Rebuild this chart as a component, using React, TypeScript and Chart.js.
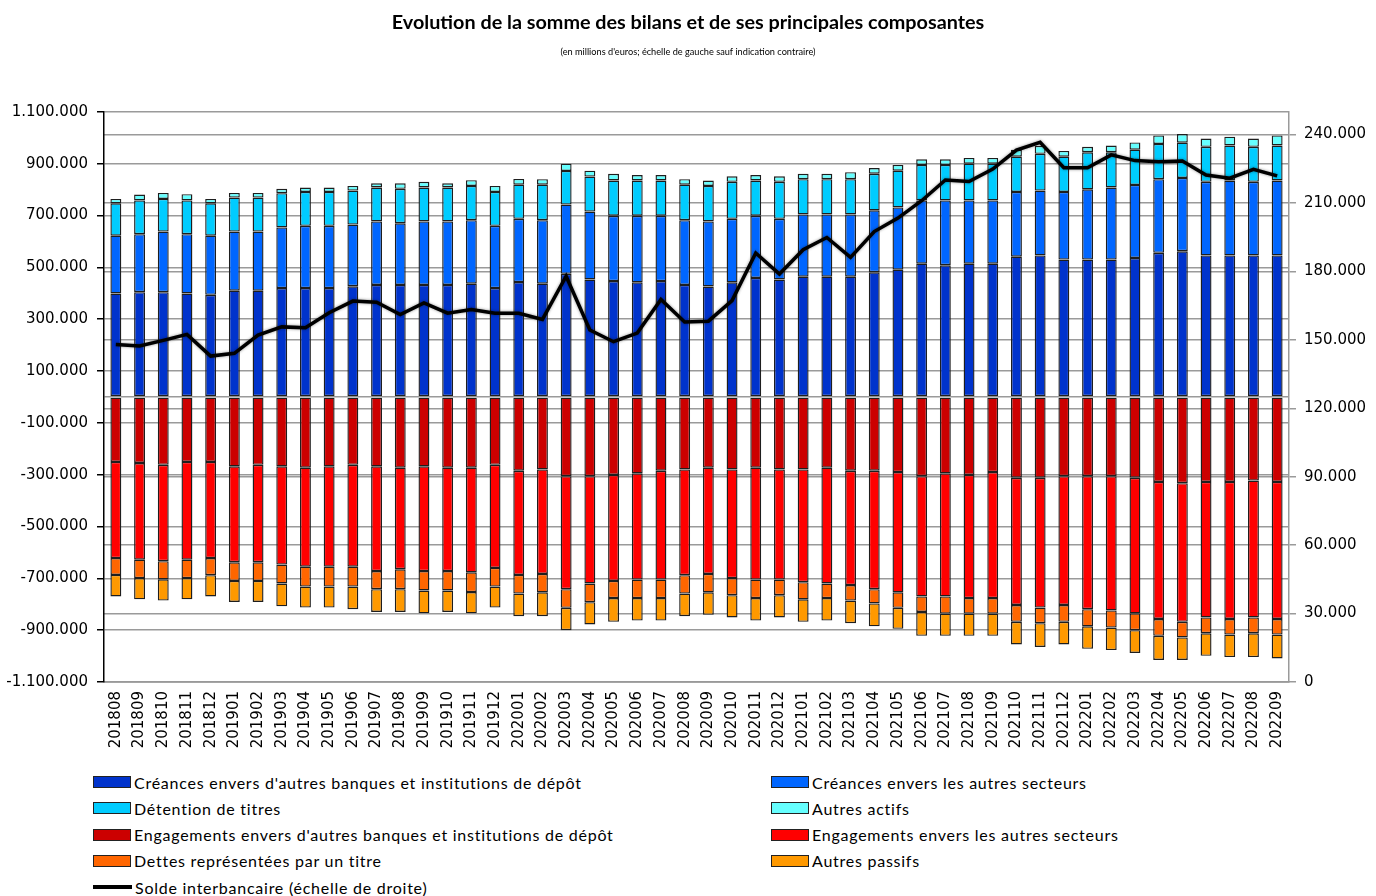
import React, { useEffect, useRef } from "react";
import { Chart, registerables } from "chart.js";

Chart.register(...registerables);

// Categories (year + month)
const categories = [
  "201808", "201809", "201810", "201811", "201812",
  "201901", "201902", "201903", "201904", "201905", "201906", "201907", "201908", "201909", "201910", "201911", "201912",
  "202001", "202002", "202003", "202004", "202005", "202006", "202007", "202008", "202009", "202010", "202011", "202012",
  "202101", "202102", "202103", "202104", "202105", "202106", "202107", "202108", "202109", "202110", "202111", "202112",
  "202201", "202202", "202203", "202204", "202205", "202206", "202207", "202208", "202209",
];

// Values in thousands of millions of euros (left scale)
const creancesBanques = [
  399, 404, 404, 399, 394, 410, 410, 420, 420, 420, 427, 432, 432, 432, 432, 437, 420,
  443, 437, 475, 453, 447, 442, 447, 432, 426, 442, 459, 453,
  464, 464, 464, 481, 491, 514, 508, 514, 514, 541, 546, 530,
  530, 530, 536, 556, 562, 546, 546, 546, 546,
];
const creancesAutres = [
  223, 224, 234, 229, 228, 228, 228, 234, 240, 240, 238, 245, 238, 245, 245, 245, 240,
  244, 245, 267, 262, 252, 257, 252, 250, 251, 245, 240, 234,
  240, 240, 240, 239, 240, 244, 250, 244, 244, 250, 250, 261,
  271, 278, 282, 284, 283, 284, 289, 284, 289,
];
const detentionTitres = [
  125, 130, 126, 130, 125, 131, 131, 132, 131, 131, 131, 131, 133, 131, 131, 132, 131,
  132, 137, 130, 135, 136, 136, 136, 137, 137, 143, 136, 143,
  136, 136, 136, 141, 142, 137, 137, 142, 142, 136, 142, 136,
  143, 136, 136, 136, 136, 135, 135, 135, 135,
];
const autresActifs = [
  17, 23, 23, 24, 17, 18, 18, 17, 17, 17, 18, 16, 21, 22, 16, 22, 23,
  22, 21, 28, 23, 26, 21, 21, 21, 21, 21, 21, 21,
  21, 21, 27, 22, 22, 22, 22, 22, 22, 27, 31, 22,
  21, 26, 28, 33, 33, 32, 34, 32, 39,
];
const engagementsBanques = [
  -251, -255, -262, -251, -251, -268, -262, -268, -273, -268, -262, -268, -273, -268, -273, -273, -262,
  -285, -280, -306, -306, -301, -295, -285, -280, -273, -280, -273, -280,
  -280, -273, -285, -285, -290, -306, -295, -301, -290, -312, -312, -306,
  -306, -306, -312, -328, -333, -328, -328, -323, -328,
];
const engagementsAutres = [
  -371, -373, -372, -377, -371, -370, -376, -379, -382, -387, -393, -404, -392, -404, -399, -404, -398,
  -402, -403, -436, -414, -409, -410, -420, -408, -410, -419, -432, -425,
  -435, -447, -441, -457, -464, -464, -475, -475, -486, -491, -501, -497,
  -513, -518, -523, -529, -535, -523, -529, -528, -529,
];
const dettesTitre = [
  -65, -71, -70, -71, -66, -72, -72, -73, -77, -77, -77, -70, -77, -75, -75, -76, -72,
  -72, -71, -72, -72, -66, -71, -71, -71, -71, -66, -71, -60,
  -66, -56, -60, -55, -60, -60, -66, -60, -60, -65, -60, -65,
  -66, -66, -65, -65, -60, -61, -60, -61, -60,
];
const autresPassifs = [
  -83, -82, -82, -82, -82, -81, -81, -88, -81, -81, -87, -88, -88, -88, -83, -82, -81,
  -87, -92, -86, -86, -92, -87, -87, -87, -87, -86, -87, -86,
  -87, -87, -87, -88, -81, -92, -86, -86, -86, -87, -92, -87,
  -87, -87, -88, -93, -87, -87, -87, -92, -92,
];
// Right scale, thousands
const soldeInterbancaire = [
  148.0, 147.3, 149.8, 152.4, 142.9, 144.1, 152.1, 155.7, 155.3, 161.9, 167.0, 166.5, 161.1, 166.2, 161.7, 163.3, 161.7,
  161.7, 159.0, 177.9, 154.3, 149.2, 153.0, 167.7, 157.8, 158.2, 167.2, 188.1, 178.9,
  189.5, 194.9, 186.2, 197.5, 203.4, 211.0, 220.1, 219.4, 224.9, 233.2, 236.6, 225.5,
  225.5, 231.1, 228.6, 228.1, 228.4, 222.3, 220.9, 224.8, 221.9,
];

const leftTicks = [-1100, -900, -700, -500, -300, -100, 0, 100, 300, 500, 700, 900, 1100];
const rightTicks = [0, 30, 60, 90, 120, 150, 180, 210, 240];

const seriesLabels = [
  "Créances envers d'autres banques et institutions de dépôt",
  "Créances envers les autres secteurs",
  "Détention de titres",
  "Autres actifs",
  "Engagements envers d'autres banques et institutions de dépôt",
  "Engagements envers les autres secteurs",
  "Dettes représentées par un titre",
  "Autres passifs",
];
const lineLabel = "Solde interbancaire (échelle de droite)";
const seriesColors = ["#0033CC", "#0066FF", "#00CCFF", "#66FFFF", "#CC0000", "#FF0000", "#FF6600", "#FF9900"];

const fmt = (v: number) => {
  const n = Math.round(v * 1000);
  const s = Math.abs(n).toString().replace(/\B(?=(\d{3})+(?!\d))/g, ".");
  return (n < 0 ? "-" : "") + s;
};

const tickFont = { family: "'DejaVu Sans'", size: 15 };

export default function App() {
  const ref = useRef<HTMLCanvasElement | null>(null);

  useEffect(() => {
    if (!ref.current) return;
    const barData = [
      creancesBanques, creancesAutres, detentionTitres, autresActifs,
      engagementsBanques, engagementsAutres, dettesTitre, autresPassifs,
    ];
    const datasets: any[] = barData.map((d, i) => ({
      type: "bar",
      label: seriesLabels[i],
      data: d,
      backgroundColor: seriesColors[i],
      borderColor: "#1e1e1e",
      borderWidth: 1.4,
      borderSkipped: false,
      yAxisID: "y",
      stack: "s",
      order: 2,
      categoryPercentage: 1,
      barPercentage: 0.46,
    }));
    datasets.push({
      type: "line",
      label: lineLabel,
      data: soldeInterbancaire,
      borderColor: "#000",
      borderWidth: 3.5,
      pointRadius: 0,
      tension: 0,
      yAxisID: "y1",
      order: 0,
    });

    const shadowPlugin = {
      id: "lineShadow",
      beforeDatasetDraw(chart: any, args: any) {
        if (chart.data.datasets[args.index].type === "line") {
          const c = chart.ctx;
          c.save();
          c.shadowColor = "rgba(0,0,0,0.45)";
          c.shadowBlur = 3;
        }
      },
      afterDatasetDraw(chart: any, args: any) {
        if (chart.data.datasets[args.index].type === "line") chart.ctx.restore();
      },
    };

    const chart = new Chart(ref.current, {
      type: "bar",
      data: { labels: categories, datasets },
      plugins: [shadowPlugin],
      options: {
        animation: false,
        responsive: true,
        maintainAspectRatio: false,
        layout: { padding: 0 },
        plugins: {
          legend: { display: false },
          tooltip: { enabled: false },
          title: {
            display: true,
            text: "Evolution de la somme des bilans et de ses principales composantes",
            color: "#000",
            font: { family: "Lato", size: 19.8, weight: "bold", lineHeight: 1.2 },
            padding: { top: 11, bottom: 8 },
          },
          subtitle: {
            display: true,
            text: "(en millions d'euros; échelle de gauche sauf indication contraire)",
            color: "#000",
            font: { family: "Lato", size: 9.2, lineHeight: 1.2 },
            padding: { top: 4, bottom: 54 },
          },
        },
        scales: {
          x: {
            stacked: true,
            grid: { display: false, drawTicks: false },
            border: { display: true, color: "#999", width: 1.5 },
            ticks: {
              autoSkip: false,
              maxRotation: 90,
              minRotation: 90,
              padding: 9,
              color: "#000",
              font: tickFont,
            },
            afterFit: (s: any) => { s.height = 88; },
          },
          y: {
            stacked: true,
            position: "left",
            min: -1100,
            max: 1100,
            afterBuildTicks: (s: any) => { s.ticks = leftTicks.map((v) => ({ value: v })); },
            grid: {
              color: "#9a9a9a",
              lineWidth: 1.5,
              tickLength: 7,
              tickColor: (ctx: any) => (ctx.tick && ctx.tick.value === 0 ? "rgba(0,0,0,0)" : "#000"),
            },
            border: { display: true, color: "#000", width: 1.5 },
            ticks: {
              color: "#000",
              font: tickFont,
              padding: 9,
              callback: (v: any) => (Number(v) === 0 ? "" : fmt(Number(v))),
            },
            afterFit: (s: any) => { s.width = 104; },
          },
          y1: {
            position: "right",
            min: 0,
            max: 250,
            afterBuildTicks: (s: any) => { s.ticks = rightTicks.map((v) => ({ value: v })); },
            grid: {
              color: "#9a9a9a",
              lineWidth: 1.5,
              tickLength: 7,
              tickColor: "#9a9a9a",
              drawOnChartArea: true,
            },
            border: { display: true, color: "#9a9a9a", width: 1.5 },
            ticks: {
              color: "#000",
              font: tickFont,
              padding: 8,
              callback: (v: any) => fmt(Number(v)),
            },
            afterFit: (s: any) => { s.width = 87; },
          },
        },
      },
    } as any);
    return () => chart.destroy();
  }, []);

  const legendItems = [
    { label: seriesLabels[0], color: seriesColors[0], col: 0, row: 0 },
    { label: seriesLabels[1], color: seriesColors[1], col: 1, row: 0 },
    { label: seriesLabels[2], color: seriesColors[2], col: 0, row: 1 },
    { label: seriesLabels[3], color: seriesColors[3], col: 1, row: 1 },
    { label: seriesLabels[4], color: seriesColors[4], col: 0, row: 2 },
    { label: seriesLabels[5], color: seriesColors[5], col: 1, row: 2 },
    { label: seriesLabels[6], color: seriesColors[6], col: 0, row: 3 },
    { label: seriesLabels[7], color: seriesColors[7], col: 1, row: 3 },
  ];
  const colX = [93, 771];
  const rowY = (r: number) => 782 + r * 26.3;
  const legendText = {
    position: "absolute" as const,
    height: 22,
    display: "flex",
    alignItems: "center",
    whiteSpace: "nowrap" as const,
    fontFamily: "Lato",
    fontSize: 16,
    color: "#000",
    letterSpacing: 0.75,
  };

  return (
    <div style={{ position: "absolute", left: 0, top: 0, width: 1376, height: 896, background: "#fff", overflow: "hidden" }}>
      <div style={{ position: "absolute", left: 0, top: 0, width: 1376, height: 770 }}>
        <canvas ref={ref} />
      </div>
      {legendItems.map((it, i) => (
        <div key={i} style={{ ...legendText, left: colX[it.col], top: rowY(it.row) - 11 }}>
          <span style={{ display: "inline-block", width: 36, height: 10, background: it.color, border: "1.5px solid #222", marginRight: 3 }} />
          <span>{it.label}</span>
        </div>
      ))}
      <div style={{ ...legendText, left: colX[0], top: rowY(4) - 11 }}>
        <span style={{ display: "inline-block", width: 39, height: 4, background: "#000", marginRight: 3 }} />
        <span>{lineLabel}</span>
      </div>
    </div>
  );
}
